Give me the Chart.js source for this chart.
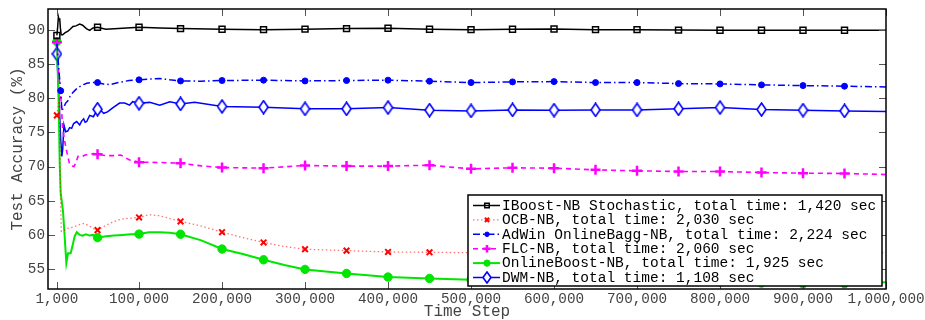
<!DOCTYPE html>
<html>
<head>
<meta charset="utf-8">
<script src="https://cdn.jsdelivr.net/npm/chart.js@4.4.1/dist/chart.umd.min.js"></script>
<style>
  html, body { margin: 0; padding: 0; background: #fff; }
  #wrap { width: 925px; height: 320px; }
</style>
</head>
<body>
<div id="wrap"><canvas id="chart" width="925" height="320"></canvas></div>
<script>
// Axis ticks
const xTicks = [1000, 100000, 200000, 300000, 400000, 500000, 600000, 700000, 800000, 900000, 1000000];
const yTicks = [55, 60, 65, 70, 75, 80, 85, 90];

// Marker positions (every 50,000 steps)
const markSteps = [1000, 50000, 100000, 150000, 200000, 250000, 300000, 350000, 400000, 450000, 500000,
  550000, 600000, 650000, 700000, 750000, 800000, 850000, 900000, 950000];
const adwinMarks = [5600, 50000, 100000, 150000, 200000, 250000, 300000, 350000, 400000, 450000, 500000,
  550000, 600000, 650000, 700000, 750000, 800000, 850000, 900000, 950000];

// Late part shared by every series
const lateSteps = [200000, 250000, 300000, 350000, 400000, 450000, 500000, 550000, 600000, 650000,
  700000, 750000, 800000, 850000, 900000, 950000, 1000000];

// IBoost-NB Stochastic
const iboostSteps = [1000, 2000, 2800, 3600, 4400, 5200, 6200, 8000, 11000, 14000, 17000, 20400, 24000, 28500,
  32000, 36500, 40500, 44500, 50000, 60000, 75000, 100000, 125000, 150000].concat(lateSteps);
const iboostAcc = [89.2, 90.5, 91.9, 91.5, 91.7, 90.3, 89.3, 89.3, 89.6, 89.8, 90.1, 90.5, 90.6, 90.85,
  90.7, 90.2, 89.95, 90.3, 90.4, 90.1, 90.2, 90.4, 90.3, 90.2,
  90.1, 90.05, 90.12, 90.2, 90.25, 90.1, 90.05, 90.1, 90.15, 90.05,
  90.05, 89.98, 89.97, 89.95, 89.95, 89.95, 89.95];

// OCB-NB
const ocbSteps = [1000, 4000, 5600, 6400, 9000, 12000, 16000, 22000, 28000, 34000, 40000, 45000, 50000, 57000,
  65000, 75000, 85000, 100000, 112000, 125000, 137000, 150000, 175000, 200000, 225000, 250000, 275000,
  300000, 350000, 400000, 450000, 500000, 600000, 700000, 800000, 900000, 1000000];
const ocbAcc = [77.5, 80.2, 64.0, 60.5, 60.6, 60.9, 61.0, 61.2, 61.5, 61.7, 61.3, 60.9, 60.7, 61.2,
  61.7, 62.2, 62.4, 62.55, 62.95, 62.8, 62.4, 61.97, 61.3, 60.4, 59.6, 58.9, 58.3,
  57.9, 57.7, 57.5, 57.45, 57.4, 57.4, 57.4, 57.4, 57.4, 57.4];

// AdWin OnlineBagg-NB
const adwinSteps = [1000, 3500, 5600, 7000, 9000, 11600, 14000, 17000, 20000, 24000, 28500, 33000, 37000,
  42000, 50000, 57000, 65000, 75000, 88000, 100000, 112000, 125000, 137000, 150000, 175000].concat(lateSteps);
const adwinAcc = [88.0, 84.0, 81.1, 78.2, 78.6, 79.3, 79.6, 80.3, 80.8, 81.3, 81.7, 82.0, 82.2,
  82.3, 82.3, 82.1, 82.0, 82.3, 82.6, 82.7, 82.8, 82.9, 82.7, 82.54, 82.5,
  82.6, 82.65, 82.54, 82.6, 82.65, 82.5, 82.3, 82.4, 82.44, 82.3,
  82.3, 82.15, 82.1, 81.96, 81.86, 81.77, 81.66];

// FLC-NB
const flcSteps = [1000, 3000, 5600, 8000, 11600, 16400, 19000, 21600, 24000, 26400, 30000, 35000, 40500,
  45000, 50000, 60000, 70000, 78000, 88000, 100000, 125000, 150000, 175000].concat(lateSteps);
const flcAcc = [88.2, 84.0, 80.5, 75.5, 72.9, 70.3, 70.1, 70.0, 70.6, 71.5, 71.4, 71.7, 71.8,
  71.9, 71.8, 71.6, 71.6, 71.7, 71.0, 70.65, 70.6, 70.5, 70.1,
  69.86, 69.77, 70.16, 70.07, 70.07, 70.2, 69.67, 69.82, 69.77, 69.52,
  69.38, 69.28, 69.28, 69.13, 69.04, 68.99, 68.84];

// OnlineBoost-NB
const oboostSteps = [1000, 3000, 4500, 5600, 8300, 10000, 12400, 14400, 17600, 20000, 22400, 25000, 28500,
  32000, 36000, 40500, 45000, 50000, 60000, 70000, 80000, 90000, 100000, 112000, 125000, 137000, 150000,
  175000, 200000, 225000, 250000, 275000, 300000, 350000, 400000, 450000, 500000, 550000, 600000, 650000,
  700000, 750000, 800000, 850000, 900000, 950000, 1000000];
const oboostAcc = [88.3, 80.0, 70.0, 66.1, 63.6, 60.5, 55.9, 57.3, 57.3, 58.5, 59.8, 60.4, 60.0,
  59.9, 60.1, 59.9, 60.0, 59.6, 59.8, 59.9, 60.0, 60.1, 60.12, 60.4, 60.4, 60.3, 60.1,
  59.2, 57.93, 57.2, 56.36, 55.6, 54.95, 54.36, 53.83, 53.63, 53.45, 53.35, 53.3, 53.25,
  53.2, 53.15, 53.1, 52.95, 52.85, 52.85, 53.05];

// DWM-NB
const dwmSteps = [1000, 3500, 5600, 7000, 8000, 9500, 11600, 14000, 16400, 18800, 21200, 24900, 28500,
  31000, 33300, 35000, 37000, 40500, 45000, 50000, 54000, 57400, 62000, 68200, 76600, 82700, 88600,
  92300, 100000, 112800, 125000, 137000, 150000, 167000].concat(lateSteps);
const dwmAcc = [86.5, 80.0, 74.0, 71.5, 72.5, 76.1, 75.1, 75.2, 75.7, 75.6, 76.3, 76.6, 76.1,
  76.7, 77.0, 76.5, 76.6, 77.5, 77.3, 78.4, 78.2, 77.8, 78.0, 78.6, 79.3, 79.3, 79.0,
  79.5, 79.27, 79.4, 79.0, 79.5, 79.18, 79.4,
  78.8, 78.7, 78.45, 78.45, 78.64, 78.26, 78.15, 78.3, 78.26, 78.3,
  78.3, 78.45, 78.64, 78.35, 78.26, 78.15, 78.05];

const seriesLabels = [
  'IBoost-NB Stochastic, total time: 1,420 sec',
  'OCB-NB, total time: 2,030 sec',
  'AdWin OnlineBagg-NB, total time: 2,224 sec',
  'FLC-NB, total time: 2,060 sec',
  'OnlineBoost-NB, total time: 1,925 sec',
  'DWM-NB, total time: 1,108 sec'
];

const MONO = '"Liberation Mono", "DejaVu Sans Mono", monospace';

// Tall hollow diamond used by DWM-NB
const makeDiamond = (w, h) => {
  const c = document.createElement('canvas');
  c.width = w; c.height = h;
  const g = c.getContext('2d');
  g.strokeStyle = '#0000ff';
  g.fillStyle = '#ffffff';
  g.lineWidth = 1.6;
  g.beginPath();
  g.moveTo(w / 2, 1); g.lineTo(w - 1, h / 2); g.lineTo(w / 2, h - 1); g.lineTo(1, h / 2);
  g.closePath();
  g.fill(); g.stroke();
  return c;
};
const diamond = makeDiamond(11, 15);
const diamondSmall = makeDiamond(10, 13);

// Build a dataset with markers only at the marker steps
const makeSeries = (label, steps, values, marks, style) => ({
  label,
  data: steps.map((x, i) => ({ x, y: values[i] })),
  borderColor: style.line,
  borderWidth: style.width,
  borderDash: style.dash || [],
  pointStyle: style.point,
  pointBorderColor: style.color,
  pointBackgroundColor: style.fill,
  pointBorderWidth: style.pointWidth,
  pointRadius: ctx => (ctx.raw && marks.includes(ctx.raw.x)) ? style.radius : 0,
  pointHoverRadius: 0,
  tension: 0,
  fill: false,
  legendStyle: style
});

const styles = [
  { line: '#000000', color: '#000000', fill: 'rgba(0,0,0,0)', width: 1.5, point: 'rect', radius: 4.2, pointWidth: 1.5 },
  { line: 'rgba(255,0,0,0.55)', color: '#ff0000', fill: '#ff0000', width: 1.3, dash: [1.5, 2.5], point: 'crossRot', radius: 4, pointWidth: 2 },
  { line: '#0000ff', color: '#0000ff', fill: '#0000ff', width: 1.5, dash: [7, 3, 1.5, 3], point: 'circle', radius: 3, pointWidth: 1 },
  { line: '#ff00ff', color: '#ff00ff', fill: '#ff00ff', width: 1.6, dash: [5, 4], point: 'cross', radius: 5, pointWidth: 2.5 },
  { line: '#00e600', color: '#00e600', fill: '#00e600', width: 2, point: 'circle', radius: 4.2, pointWidth: 1 },
  { line: '#0000ff', color: '#0000ff', fill: '#ffffff', width: 1.5, point: diamond, legendPoint: diamondSmall, radius: 6, pointWidth: 1.6 }
];

const datasets = [
  makeSeries(seriesLabels[0], iboostSteps, iboostAcc, markSteps, styles[0]),
  makeSeries(seriesLabels[1], ocbSteps, ocbAcc, markSteps, styles[1]),
  makeSeries(seriesLabels[2], adwinSteps, adwinAcc, adwinMarks, styles[2]),
  makeSeries(seriesLabels[3], flcSteps, flcAcc, markSteps, styles[3]),
  makeSeries(seriesLabels[4], oboostSteps, oboostAcc, markSteps, styles[4]),
  makeSeries(seriesLabels[5], dwmSteps, dwmAcc, markSteps, styles[5])
];

// Inward tick marks, frame and the boxed legend
const framePlugin = {
  id: 'frame',
  afterDraw(chart) {
    const { ctx, chartArea: a, scales } = chart;
    ctx.save();
    ctx.strokeStyle = '#555';
    ctx.lineWidth = 1;
    ctx.beginPath();
    scales.x.ticks.forEach(t => {
      const px = Math.round(scales.x.getPixelForValue(t.value)) + 0.5;
      ctx.moveTo(px, a.top); ctx.lineTo(px, a.top + 7);
      ctx.moveTo(px, a.bottom); ctx.lineTo(px, a.bottom - 7);
    });
    scales.y.ticks.forEach(t => {
      const py = Math.round(scales.y.getPixelForValue(t.value)) + 0.5;
      ctx.moveTo(a.left, py); ctx.lineTo(a.left + 7, py);
      ctx.moveTo(a.right, py); ctx.lineTo(a.right - 7, py);
    });
    ctx.stroke();

    ctx.strokeStyle = '#000';
    ctx.lineWidth = 1.5;
    ctx.strokeRect(a.left, a.top, a.right - a.left, a.bottom - a.top);

    // legend box
    const lx = 468, ly = 195, lw = 414, lh = 91;
    ctx.fillStyle = '#fff';
    ctx.fillRect(lx, ly, lw, lh);
    ctx.strokeStyle = '#000';
    ctx.lineWidth = 1.5;
    ctx.strokeRect(lx, ly, lw, lh);

    chart.data.datasets.forEach((ds, i) => {
      const st = ds.legendStyle;
      const y = ly + 10.5 + i * 14.4;
      ctx.save();
      ctx.strokeStyle = st.line;
      ctx.lineWidth = st.width;
      ctx.setLineDash(st.dash || []);
      ctx.beginPath();
      ctx.moveTo(473, y); ctx.lineTo(500, y);
      ctx.stroke();
      ctx.setLineDash([]);
      ctx.strokeStyle = st.color;
      ctx.fillStyle = st.fill;
      ctx.lineWidth = st.pointWidth;
      Chart.helpers.drawPoint(ctx, { pointStyle: st.legendPoint || st.point, radius: st.radius * 0.75, rotation: 0, borderWidth: st.pointWidth }, 487, y);
      ctx.restore();

      ctx.fillStyle = '#000';
      ctx.font = '14.5px ' + MONO;
      ctx.textBaseline = 'middle';
      ctx.textAlign = 'left';
      ctx.fillText(ds.label, 502, y + 0.5);
    });
    ctx.restore();
  }
};

new Chart(document.getElementById('chart'), {
  type: 'line',
  data: { datasets },
  options: {
    responsive: false,
    animation: false,
    devicePixelRatio: 1,
    layout: { padding: { top: 9, right: 39, left: 0, bottom: 0 } },
    plugins: { legend: { display: false }, tooltip: { enabled: false } },
    scales: {
      x: {
        type: 'linear',
        min: -9700,
        max: 1000000,
        grid: { display: false, drawTicks: false },
        border: { display: false },
        afterBuildTicks: scale => { scale.ticks = xTicks.map(v => ({ value: v })); },
        afterFit: scale => { scale.height = 31; scale.paddingLeft = 0; scale.paddingRight = 0; },
        ticks: {
          autoSkip: false,
          maxRotation: 0,
          padding: 2,
          color: '#444',
          font: { family: MONO, size: 14.3 },
          callback: v => v.toLocaleString('en-US')
        },
        title: {
          display: true,
          text: 'Time Step',
          color: '#444',
          font: { family: MONO, size: 16, lineHeight: 1 },
          padding: 0
        }
      },
      y: {
        min: 52.08,
        max: 93.07,
        grid: { display: false, drawTicks: false },
        border: { display: false },
        afterBuildTicks: scale => { scale.ticks = yTicks.map(v => ({ value: v })); },
        afterFit: scale => { scale.width = 48; scale.paddingTop = 0; scale.paddingBottom = 0; },
        ticks: {
          padding: 3,
          color: '#444',
          font: { family: MONO, size: 14.3 }
        },
        title: {
          display: true,
          text: 'Test Accuracy (%)',
          color: '#444',
          font: { family: MONO, size: 16, lineHeight: 1 },
          padding: { top: 10, bottom: 0 }
        }
      }
    }
  },
  plugins: [framePlugin]
});
</script>
</body>
</html>
